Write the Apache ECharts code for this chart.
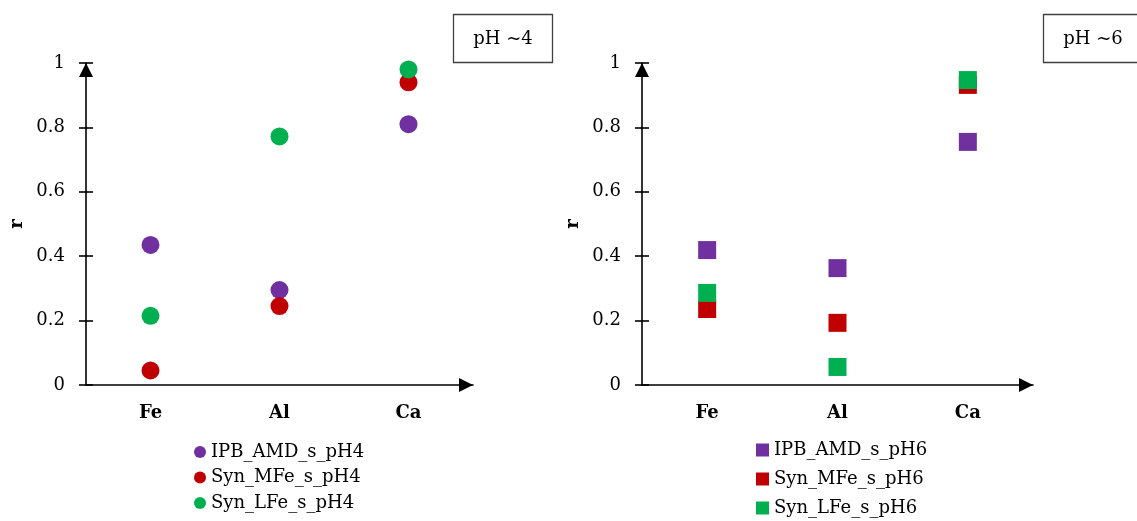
<!DOCTYPE html>
<html>
<head>
<meta charset="utf-8">
<script src="https://cdn.jsdelivr.net/npm/echarts@6/dist/echarts.min.js"></script>
<style>
  html, body { margin: 0; padding: 0; background: #fff; }
  #mainBox { width: 1137px; height: 521px; }
</style>
</head>
<body>
<div id="mainBox"></div>
<script>
// 数据
var elements = ['Fe', 'Al', 'Ca'];
var yTicks = [0, 0.2, 0.4, 0.6, 0.8, 1];

var ipbPH4 = [0.435, 0.295, 0.81];
var mfePH4 = [0.045, 0.245, 0.94];
var lfePH4 = [0.215, 0.772, 0.98];

var ipbPH6 = [0.419, 0.363, 0.755];
var mfePH6 = [0.236, 0.193, 0.932];
var lfePH6 = [0.286, 0.056, 0.947];

var FONT = 'DejaVu Serif';
var PURPLE = '#7030A0', RED = '#C00000', GREEN = '#00B050';

var gridW = [387, 391];

var myChart = echarts.init(document.getElementById('mainBox'));

function xAxisOf(grid) {
    return {
        type: 'category',
        gridIndex: grid,
        data: elements,
        axisLine: {
            lineStyle: { color: '#000', width: 1.6 },
            symbol: ['none', 'triangle'],
            symbolSize: [14, 14],
            symbolOffset: [0, -7]
        },
        axisTick: { show: false },
        axisLabel: { color: '#000', fontFamily: FONT, fontWeight: 'bold', fontSize: 18, margin: 19 },
        splitLine: { show: false }
    };
}

function yAxesOf(grid) {
    return [{
        type: 'value',
        gridIndex: grid,
        min: yTicks[0],
        max: yTicks[yTicks.length - 1],
        interval: 0.2,
        name: 'r',
        nameLocation: 'middle',
        nameGap: 60,
        nameRotate: 90,
        nameTextStyle: { color: '#000', fontFamily: FONT, fontWeight: 'bold', fontSize: 18 },
        axisLine: {
            show: true,
            lineStyle: { color: '#000', width: 1.6 },
            symbol: ['none', 'triangle'],
            symbolSize: [14, 14],
            symbolOffset: [0, -7]
        },
        axisTick: { show: true, length: 7, lineStyle: { color: '#000', width: 1.6 } },
        axisLabel: { color: '#000', fontFamily: FONT, fontSize: 18, margin: 21 },
        splitLine: { show: false }
    }, {
        // 刻度线向内的那一半，刻度与主轴相同
        type: 'value',
        gridIndex: grid,
        min: yTicks[0],
        max: yTicks[yTicks.length - 1],
        interval: 0.2,
        position: 'left',
        offset: 0,
        axisLine: { show: true, lineStyle: { color: 'rgba(0,0,0,0)', width: 0 } },
        axisTick: { show: true, inside: true, length: 7, lineStyle: { color: '#000', width: 1.6 } },
        axisLabel: { show: false },
        splitLine: { show: false }
    }];
}

function scatter(name, data, color, symbol, grid, yIdx) {
    return {
        name: name,
        type: 'scatter',
        xAxisIndex: grid,
        yAxisIndex: grid * 2 + yIdx,
        data: data,
        symbol: symbol,
        symbolSize: 18,
        itemStyle: { color: color, opacity: 1 }
    };
}

function phBox(x, label) {
    return {
        type: 'group',
        children: [{
            type: 'rect',
            shape: { x: x, y: 14.5, width: 99, height: 48 },
            style: { fill: '#fff', stroke: '#404040', lineWidth: 1.3 }
        }, {
            type: 'text',
            x: x + 49.5,
            y: 39,
            style: { text: label, fontFamily: FONT, fontSize: 18, fill: '#000', align: 'center', verticalAlign: 'middle' }
        }]
    };
}

var option = {
    animation: false,
    backgroundColor: '#fff',
    grid: [
        { left: 86, top: 63, width: gridW[0], height: 322 },
        { left: 642, top: 63, width: gridW[1], height: 322 }
    ],
    xAxis: [xAxisOf(0), xAxisOf(1)],
    yAxis: yAxesOf(0).concat(yAxesOf(1)),
    legend: [{
        orient: 'vertical',
        left: 194,
        top: 443,
        padding: 0,
        icon: 'circle',
        itemWidth: 12,
        itemHeight: 12,
        itemGap: 7.5,
        textStyle: { color: '#000', fontFamily: FONT, fontSize: 18, lineHeight: 18 },
        data: ['IPB_AMD_s_pH4', 'Syn_MFe_s_pH4', 'Syn_LFe_s_pH4']
    }, {
        orient: 'vertical',
        left: 756,
        top: 441,
        padding: 0,
        icon: 'rect',
        itemWidth: 13,
        itemHeight: 13,
        itemGap: 11,
        textStyle: { color: '#000', fontFamily: FONT, fontSize: 18, lineHeight: 18 },
        data: ['IPB_AMD_s_pH6', 'Syn_MFe_s_pH6', 'Syn_LFe_s_pH6']
    }],
    graphic: [phBox(453.5, 'pH ~4'), phBox(1043.5, 'pH ~6')],
    series: [
        scatter('IPB_AMD_s_pH4', ipbPH4, PURPLE, 'circle', 0, 0),
        scatter('Syn_MFe_s_pH4', mfePH4, RED, 'circle', 0, 1),
        scatter('Syn_LFe_s_pH4', lfePH4, GREEN, 'circle', 0, 1),
        scatter('IPB_AMD_s_pH6', ipbPH6, PURPLE, 'rect', 1, 0),
        scatter('Syn_MFe_s_pH6', mfePH6, RED, 'rect', 1, 1),
        scatter('Syn_LFe_s_pH6', lfePH6, GREEN, 'rect', 1, 1)
    ]
};

myChart.setOption(option);
</script>
</body>
</html>
